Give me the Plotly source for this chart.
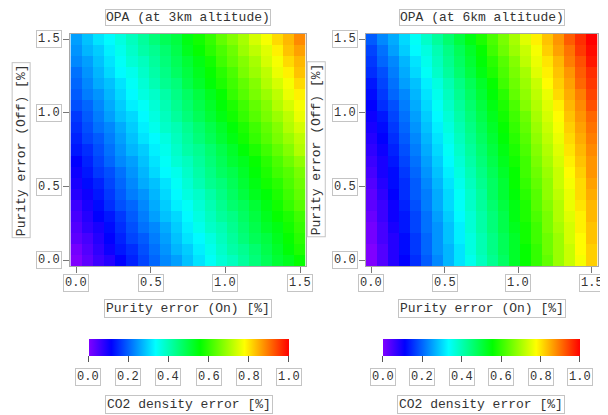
import plotly.graph_objects as go

# ---------------- data ----------------
x_on = [0.0, 0.075, 0.15, 0.225, 0.3, 0.375, 0.45, 0.525, 0.6, 0.675, 0.75,
        0.825, 0.9, 0.975, 1.05, 1.125, 1.2, 1.275, 1.35, 1.425, 1.5]
y_off = [0.0, 0.075, 0.15, 0.225, 0.3, 0.375, 0.45, 0.525, 0.6, 0.675, 0.75,
         0.825, 0.9, 0.975, 1.05, 1.125, 1.2, 1.275, 1.35, 1.425, 1.5]

# rows: y_off = 0.0 (first) ... 1.5 (last)
z_3km = [
    [0.00, 0.03, 0.06, 0.08, 0.11, 0.14, 0.17, 0.20, 0.23, 0.25, 0.28, 0.31, 0.34, 0.37, 0.39, 0.42, 0.45, 0.48, 0.51, 0.53, 0.56],
    [0.01, 0.04, 0.07, 0.10, 0.13, 0.15, 0.18, 0.21, 0.24, 0.27, 0.29, 0.32, 0.35, 0.38, 0.41, 0.43, 0.46, 0.49, 0.52, 0.55, 0.58],
    [0.03, 0.05, 0.08, 0.11, 0.14, 0.17, 0.19, 0.22, 0.25, 0.28, 0.31, 0.33, 0.36, 0.39, 0.42, 0.45, 0.48, 0.50, 0.53, 0.56, 0.59],
    [0.04, 0.07, 0.09, 0.12, 0.15, 0.18, 0.21, 0.23, 0.26, 0.29, 0.32, 0.35, 0.38, 0.40, 0.43, 0.46, 0.49, 0.52, 0.54, 0.57, 0.60],
    [0.05, 0.08, 0.11, 0.13, 0.16, 0.19, 0.22, 0.25, 0.28, 0.30, 0.33, 0.36, 0.39, 0.42, 0.44, 0.47, 0.50, 0.53, 0.56, 0.58, 0.61],
    [0.06, 0.09, 0.12, 0.15, 0.18, 0.20, 0.23, 0.26, 0.29, 0.32, 0.34, 0.37, 0.40, 0.43, 0.46, 0.48, 0.51, 0.54, 0.57, 0.60, 0.63],
    [0.08, 0.10, 0.13, 0.16, 0.19, 0.22, 0.24, 0.27, 0.30, 0.33, 0.36, 0.38, 0.41, 0.44, 0.47, 0.50, 0.53, 0.55, 0.58, 0.61, 0.64],
    [0.09, 0.12, 0.14, 0.17, 0.20, 0.23, 0.26, 0.28, 0.31, 0.34, 0.37, 0.40, 0.43, 0.45, 0.48, 0.51, 0.54, 0.57, 0.59, 0.62, 0.65],
    [0.10, 0.13, 0.16, 0.18, 0.21, 0.24, 0.27, 0.30, 0.33, 0.35, 0.38, 0.41, 0.44, 0.47, 0.49, 0.52, 0.55, 0.58, 0.61, 0.63, 0.66],
    [0.11, 0.14, 0.17, 0.20, 0.23, 0.25, 0.28, 0.31, 0.34, 0.37, 0.39, 0.42, 0.45, 0.48, 0.51, 0.53, 0.56, 0.59, 0.62, 0.65, 0.68],
    [0.13, 0.15, 0.18, 0.21, 0.24, 0.27, 0.29, 0.32, 0.35, 0.38, 0.41, 0.43, 0.46, 0.49, 0.52, 0.55, 0.58, 0.61, 0.64, 0.67, 0.71],
    [0.14, 0.17, 0.19, 0.22, 0.25, 0.28, 0.31, 0.33, 0.36, 0.39, 0.42, 0.45, 0.48, 0.51, 0.54, 0.57, 0.60, 0.63, 0.66, 0.69, 0.72],
    [0.15, 0.18, 0.21, 0.23, 0.26, 0.29, 0.32, 0.35, 0.38, 0.40, 0.43, 0.46, 0.49, 0.52, 0.55, 0.58, 0.61, 0.64, 0.67, 0.71, 0.74],
    [0.16, 0.19, 0.22, 0.25, 0.28, 0.30, 0.33, 0.36, 0.39, 0.42, 0.45, 0.48, 0.51, 0.54, 0.57, 0.60, 0.63, 0.66, 0.69, 0.72, 0.76],
    [0.18, 0.20, 0.23, 0.26, 0.29, 0.32, 0.34, 0.37, 0.40, 0.43, 0.46, 0.49, 0.52, 0.55, 0.58, 0.61, 0.64, 0.67, 0.71, 0.74, 0.77],
    [0.19, 0.22, 0.24, 0.27, 0.30, 0.33, 0.36, 0.38, 0.41, 0.44, 0.47, 0.50, 0.53, 0.56, 0.60, 0.63, 0.66, 0.69, 0.72, 0.76, 0.79],
    [0.20, 0.23, 0.26, 0.28, 0.31, 0.34, 0.37, 0.40, 0.43, 0.45, 0.49, 0.52, 0.55, 0.58, 0.61, 0.64, 0.67, 0.71, 0.74, 0.77, 0.81],
    [0.21, 0.24, 0.27, 0.30, 0.33, 0.35, 0.38, 0.41, 0.44, 0.47, 0.50, 0.53, 0.56, 0.59, 0.62, 0.66, 0.69, 0.72, 0.76, 0.79, 0.83],
    [0.23, 0.25, 0.28, 0.31, 0.34, 0.37, 0.39, 0.42, 0.45, 0.48, 0.51, 0.54, 0.57, 0.61, 0.64, 0.67, 0.70, 0.74, 0.77, 0.81, 0.84],
    [0.24, 0.27, 0.29, 0.32, 0.35, 0.38, 0.41, 0.43, 0.46, 0.49, 0.53, 0.56, 0.59, 0.62, 0.65, 0.69, 0.72, 0.75, 0.79, 0.83, 0.86],
    [0.25, 0.28, 0.31, 0.33, 0.36, 0.39, 0.42, 0.45, 0.48, 0.50, 0.54, 0.57, 0.60, 0.64, 0.67, 0.70, 0.74, 0.77, 0.81, 0.84, 0.88],
]

z_6km = [
    [0.00, 0.04, 0.08, 0.11, 0.15, 0.19, 0.23, 0.27, 0.31, 0.35, 0.39, 0.43, 0.47, 0.52, 0.56, 0.60, 0.64, 0.69, 0.73, 0.77, 0.82],
    [0.00, 0.04, 0.08, 0.12, 0.16, 0.20, 0.24, 0.27, 0.31, 0.36, 0.40, 0.44, 0.48, 0.52, 0.56, 0.60, 0.65, 0.69, 0.73, 0.78, 0.82],
    [0.01, 0.05, 0.08, 0.12, 0.16, 0.20, 0.24, 0.28, 0.32, 0.36, 0.40, 0.44, 0.48, 0.52, 0.57, 0.61, 0.65, 0.69, 0.74, 0.78, 0.83],
    [0.01, 0.05, 0.09, 0.13, 0.17, 0.21, 0.24, 0.28, 0.32, 0.37, 0.41, 0.45, 0.49, 0.53, 0.57, 0.61, 0.66, 0.70, 0.74, 0.79, 0.83],
    [0.02, 0.06, 0.10, 0.13, 0.17, 0.21, 0.25, 0.29, 0.33, 0.37, 0.41, 0.45, 0.49, 0.54, 0.58, 0.62, 0.66, 0.71, 0.75, 0.79, 0.84],
    [0.03, 0.06, 0.10, 0.14, 0.18, 0.22, 0.26, 0.30, 0.34, 0.38, 0.42, 0.46, 0.50, 0.54, 0.58, 0.63, 0.67, 0.71, 0.76, 0.80, 0.84],
    [0.03, 0.07, 0.11, 0.15, 0.19, 0.22, 0.26, 0.30, 0.34, 0.38, 0.42, 0.47, 0.51, 0.55, 0.59, 0.63, 0.68, 0.72, 0.76, 0.81, 0.85],
    [0.04, 0.08, 0.12, 0.15, 0.19, 0.23, 0.27, 0.31, 0.35, 0.39, 0.43, 0.47, 0.51, 0.56, 0.60, 0.64, 0.68, 0.73, 0.77, 0.81, 0.86],
    [0.05, 0.09, 0.12, 0.16, 0.20, 0.24, 0.28, 0.32, 0.36, 0.40, 0.44, 0.48, 0.52, 0.56, 0.61, 0.65, 0.69, 0.73, 0.78, 0.82, 0.87],
    [0.06, 0.09, 0.13, 0.17, 0.21, 0.25, 0.29, 0.33, 0.37, 0.41, 0.45, 0.49, 0.53, 0.57, 0.61, 0.66, 0.70, 0.74, 0.79, 0.83, 0.87],
    [0.07, 0.10, 0.14, 0.18, 0.22, 0.26, 0.30, 0.34, 0.38, 0.42, 0.46, 0.50, 0.54, 0.58, 0.62, 0.67, 0.71, 0.75, 0.80, 0.84, 0.88],
    [0.08, 0.11, 0.15, 0.19, 0.23, 0.27, 0.31, 0.35, 0.39, 0.43, 0.47, 0.51, 0.55, 0.59, 0.63, 0.68, 0.72, 0.76, 0.81, 0.85, 0.89],
    [0.09, 0.12, 0.16, 0.20, 0.24, 0.28, 0.32, 0.36, 0.40, 0.44, 0.48, 0.52, 0.56, 0.60, 0.64, 0.69, 0.73, 0.77, 0.82, 0.86, 0.90],
    [0.10, 0.13, 0.17, 0.21, 0.25, 0.29, 0.33, 0.37, 0.41, 0.45, 0.49, 0.53, 0.57, 0.61, 0.65, 0.70, 0.74, 0.78, 0.83, 0.87, 0.91],
    [0.11, 0.15, 0.18, 0.22, 0.26, 0.30, 0.34, 0.38, 0.42, 0.46, 0.50, 0.54, 0.58, 0.62, 0.67, 0.71, 0.75, 0.79, 0.84, 0.88, 0.93],
    [0.12, 0.16, 0.20, 0.23, 0.27, 0.31, 0.35, 0.39, 0.43, 0.47, 0.51, 0.55, 0.59, 0.64, 0.68, 0.72, 0.76, 0.81, 0.85, 0.89, 0.94],
    [0.13, 0.17, 0.21, 0.25, 0.28, 0.32, 0.36, 0.40, 0.44, 0.48, 0.52, 0.56, 0.61, 0.65, 0.69, 0.73, 0.78, 0.82, 0.86, 0.91, 0.95],
    [0.15, 0.18, 0.22, 0.26, 0.30, 0.34, 0.38, 0.42, 0.46, 0.50, 0.54, 0.58, 0.62, 0.66, 0.70, 0.75, 0.79, 0.83, 0.87, 0.92, 0.96],
    [0.16, 0.20, 0.23, 0.27, 0.31, 0.35, 0.39, 0.43, 0.47, 0.51, 0.55, 0.59, 0.63, 0.67, 0.72, 0.76, 0.80, 0.84, 0.89, 0.93, 0.98],
    [0.17, 0.21, 0.25, 0.29, 0.33, 0.36, 0.40, 0.44, 0.48, 0.52, 0.56, 0.61, 0.65, 0.69, 0.73, 0.77, 0.82, 0.86, 0.90, 0.95, 0.99],
    [0.19, 0.23, 0.26, 0.30, 0.34, 0.38, 0.42, 0.46, 0.50, 0.54, 0.58, 0.62, 0.66, 0.70, 0.75, 0.79, 0.83, 0.87, 0.92, 0.96, 1.00],
]

axis_ticks = [0.0, 0.5, 1.0, 1.5]
axis_tick_labels = ["0.0", "0.5", "1.0", "1.5"]
cb_ticks = [0.0, 0.2, 0.4, 0.6, 0.8, 1.0]
cb_tick_labels = ["0.0", "0.2", "0.4", "0.6", "0.8", "1.0"]

titles = ["OPA (at 3km altitude)", "OPA (at 6km altitude)"]
x_title = "Purity error (On) [%]"
y_title = "Purity error (Off) [%]"
cb_title = "CO2 density error [%]"

# ---------------- style ----------------
OFF = 8                      # default page body margin
W, H = 608 - OFF, 415 - OFF  # figure size
FONT = "Courier New, Liberation Mono, monospace"
TXT = "#333333"
BOX = "#c4c4c4"


def px(xp):
    return (xp - OFF) / W


def py(yp):
    return 1 - (yp - OFF) / H


colorscale = [
    [0.0, "rgb(128,0,255)"],
    [1 / 9, "rgb(0,0,255)"],
    [3 / 9, "rgb(0,255,255)"],
    [5 / 9, "rgb(0,255,0)"],
    [7 / 9, "rgb(255,255,0)"],
    [1.0, "rgb(255,0,0)"],
]

# page-pixel geometry of the two panels
panels = [
    dict(x0=70.4, x1=305.6, cb0=88.3, cb1=288.7),
    dict(x0=365.5, x1=597.5, cb0=382.7, cb1=580.0),
]
plot_top, plot_bot = 33.5, 266.0
cb_top, cb_th = 339.3, 17.4

fig = go.Figure()
zs = [z_3km, z_6km]
annotations = []
layout = {}

for k, (p, z) in enumerate(zip(panels, zs)):
    n = k + 1
    xa = "x" if n == 1 else f"x{n}"
    ya = "y" if n == 1 else f"y{n}"
    cxa = f"x{n + 2}"
    cya = f"y{n + 2}"
    cb_center = (p["cb0"] + p["cb1"]) / 2
    fig.add_trace(go.Heatmap(
        x=x_on, y=y_off, z=z, xaxis=xa, yaxis=ya,
        colorscale=colorscale, zmin=0, zmax=1, hoverinfo="skip",
        colorbar=dict(
            orientation="h", lenmode="pixels", len=p["cb1"] - p["cb0"],
            thickness=cb_th, thicknessmode="pixels",
            x=px(cb_center), xanchor="center",
            y=py(cb_top), yanchor="top",
            xpad=0, ypad=0, outlinewidth=0,
            tickmode="array", tickvals=cb_ticks, ticks="outside",
            ticklen=6, tickwidth=1, tickcolor="#555555",
            showticklabels=False,
        ),
    ))
    # invisible axis aligned with the colour bar, used to place its labels
    fig.add_trace(go.Scatter(x=[], y=[], xaxis=cxa, yaxis=cya,
                             showlegend=False, hoverinfo="skip"))
    axis_common = dict(
        range=[-0.0375, 1.5375], tickmode="array", tickvals=axis_ticks,
        showticklabels=False, ticks="outside", ticklen=6, tickwidth=1,
        tickcolor="#777777", showline=True, linecolor="#a8a8a8",
        linewidth=1, mirror=True, showgrid=False, zeroline=False,
        fixedrange=True,
    )
    layout["xaxis" if n == 1 else f"xaxis{n}"] = dict(
        axis_common, domain=[px(p["x0"]), px(p["x1"])], anchor=ya)
    layout["yaxis" if n == 1 else f"yaxis{n}"] = dict(
        axis_common, domain=[py(plot_bot), py(plot_top)], anchor=xa)
    layout[f"xaxis{n + 2}"] = dict(
        domain=[px(p["cb0"]), px(p["cb1"])], range=[0, 1], visible=False,
        anchor=cya, fixedrange=True)
    layout[f"yaxis{n + 2}"] = dict(
        domain=[0, 0.05], range=[0, 1], visible=False, anchor=cxa,
        fixedrange=True)

    box = dict(bordercolor=BOX, borderwidth=1, borderpad=1,
               bgcolor="white", showarrow=False,
               font=dict(family=FONT, size=12, color=TXT))
    big = dict(box, font=dict(family=FONT, size=13, color=TXT))
    xdom = f"{xa} domain"
    ydom = f"{ya} domain"
    # title
    annotations.append(dict(big, text=titles[k], xref=xdom, x=0.5,
                            yref=ydom, y=1, yanchor="bottom", yshift=8,
                            borderpad=0))
    # x tick labels
    for t, lab in zip(axis_ticks, axis_tick_labels):
        annotations.append(dict(box, text=lab, xref=xa, x=t, yref=ydom, y=0,
                                yanchor="top", yshift=-8))
    # y tick labels
    for t, lab in zip(axis_ticks, axis_tick_labels):
        annotations.append(dict(box, text=lab, xref=xdom, x=0,
                                xanchor="right", xshift=-8, yref=ya, y=t))
    # axis titles
    annotations.append(dict(big, text=x_title, xref=xdom, x=0.5, yref=ydom,
                            y=0, yanchor="top", yshift=-33))
    annotations.append(dict(big, text=y_title, textangle=-90, xref=xdom, x=0,
                            xanchor="center", xshift=-49, yref=ydom, y=0.5))
    # colour bar labels
    cb_bottom = py(cb_top + cb_th)
    for t, lab in zip(cb_ticks, cb_tick_labels):
        annotations.append(dict(box, text=lab, xref=cxa, x=t, yref="paper",
                                y=cb_bottom, yanchor="top", yshift=-11))
    annotations.append(dict(big, text=cb_title, xref=cxa, x=0.5,
                            yref="paper", y=cb_bottom, yanchor="top",
                            yshift=-38))

fig.update_layout(
    width=W, height=H, autosize=False,
    margin=dict(l=0, r=0, t=0, b=0),
    paper_bgcolor="white", plot_bgcolor="white",
    showlegend=False, annotations=annotations,
    font=dict(family=FONT, size=12, color=TXT),
    **layout,
)

fig.write_html("out.html")
